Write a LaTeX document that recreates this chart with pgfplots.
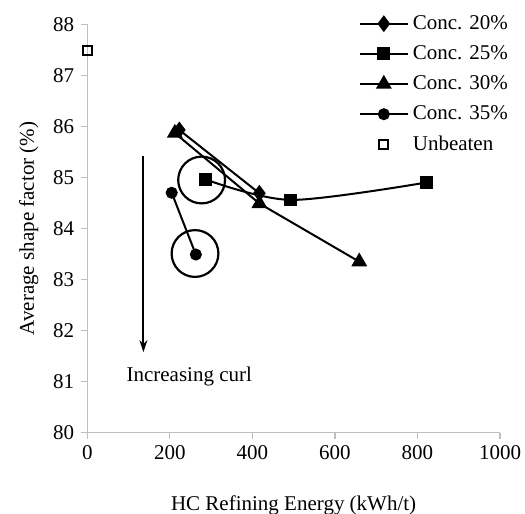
\documentclass[border=0pt]{standalone}
\usepackage{fontspec}
\setmainfont{Liberation Serif}
\usepackage{pgfplots}
\pgfplotsset{compat=1.18}
\usetikzlibrary{arrows.meta}
\begin{document}
\begin{tikzpicture}[font=\fontsize{10.5}{12.6}\selectfont]
\begin{axis}[
  at={(0,0)}, anchor=south west,
  scale only axis, width=206.35pt, height=204.2pt,
  xmin=0, xmax=1000, ymin=80, ymax=88,
  xtick={0,200,...,1000}, ytick={80,81,...,88},
  axis x line*=bottom, axis y line*=left,
  axis line style={-, draw=black!25, line width=0.6pt},
  tick style={draw=black!25, line width=0.6pt},
  tick align=outside, major tick length=3pt,
  /pgf/number format/assume math mode=true,
  /pgf/number format/1000 sep={},
  xlabel={HC Refining Energy (kWh/t)},
  ylabel={Average shape factor (\%)},
  xlabel style={yshift=-11pt},
  ylabel style={yshift=0.5pt},
  clip=false,
  legend cell align=left,
  legend style={draw=none, fill=none, at={(0.657,1.033)}, anchor=north west,
    row sep=2.6pt, inner sep=0pt},
  legend image code/.code={\draw[mark repeat=2,mark phase=2,#1] plot coordinates {(0pt,0pt) (12pt,0pt) (24pt,0pt)};},
]
\addplot[black, line width=1pt, mark=diamond*, mark size=3.4pt] coordinates {(223,85.93) (417,84.69)};
\addlegendentry{Conc. 20\%}
\addplot[black, line width=1pt, smooth, mark=square*, mark size=2.7pt, mark options={solid}] coordinates {(287,84.96) (493,84.56) (821,84.90)};
\addlegendentry{Conc. 25\%}
\addplot[black, line width=1pt, mark=triangle*, mark size=3.6pt] coordinates {(212,85.87) (417,84.49) (659,83.35)};
\addlegendentry{Conc. 30\%}
\addplot[black, line width=1pt, mark=*, mark size=2.5pt] coordinates {(204.5,84.70) (263,83.49)};
\addlegendentry{Conc. 35\%}
\addplot[black, only marks, mark=square, mark size=2.3pt, mark options={line width=1pt}] coordinates {(1,87.48)};
\addlegendentry{Unbeaten}
\addplot[black, only marks, mark=o, mark size=11.7pt, mark options={line width=1.1pt}, forget plot] coordinates {(277,84.95) (261,83.51)};
\draw[black, line width=1pt, -{Stealth[length=6pt,width=4pt]}] (axis cs:136,85.42) -- (axis cs:136,81.58);
\node at (axis cs:247,81.11) {Increasing curl};
\end{axis}
\pgfresetboundingbox
\useasboundingbox (-43.65pt,-40.65pt) rectangle (218.85pt,216.35pt);
\end{tikzpicture}
\end{document}
